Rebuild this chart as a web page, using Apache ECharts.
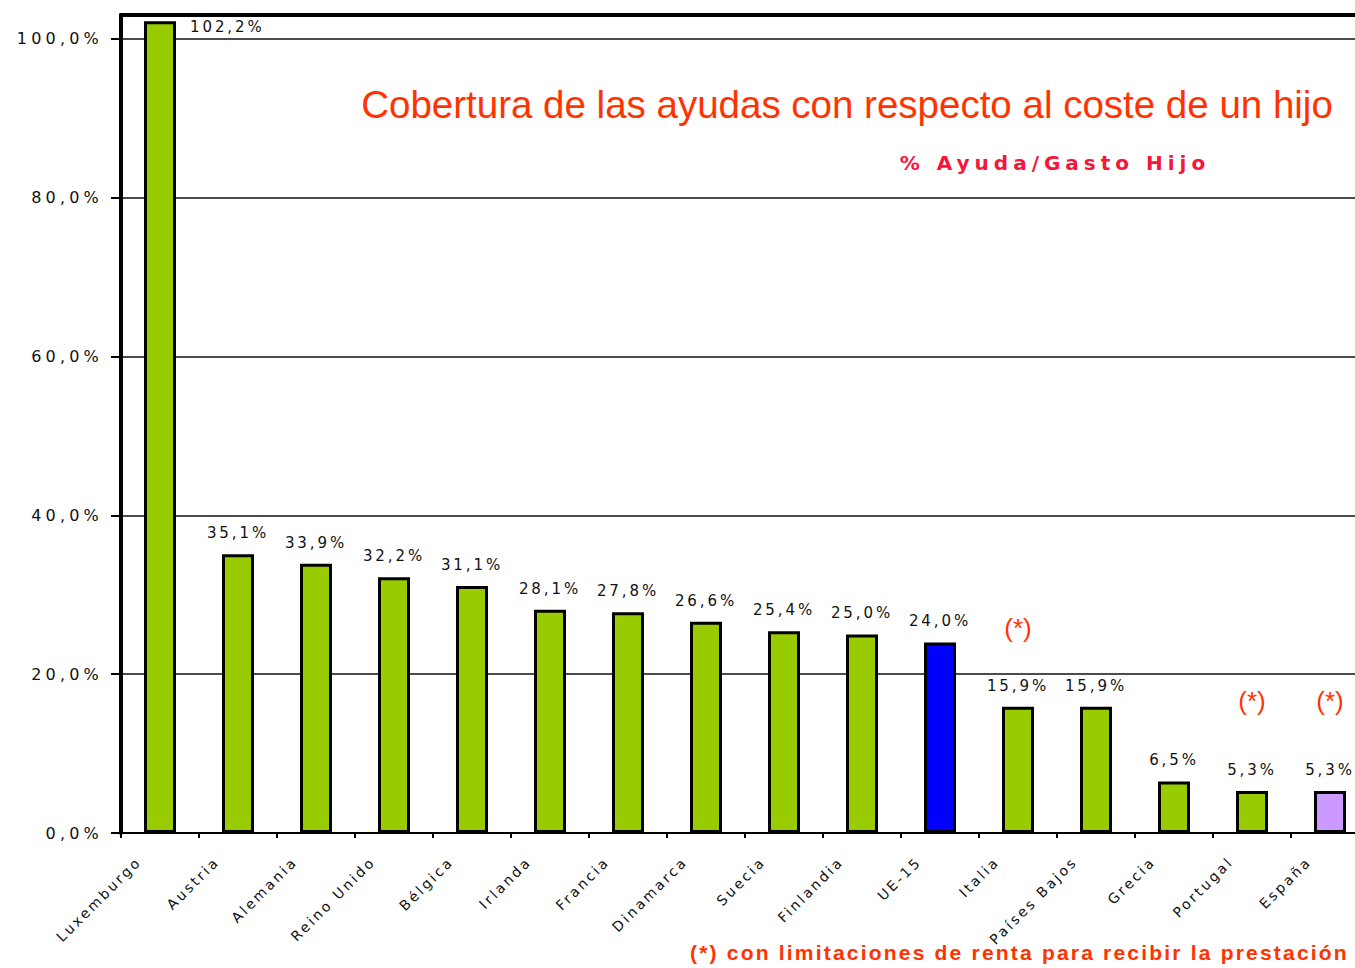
<!DOCTYPE html>
<html lang="es">
<head>
<meta charset="utf-8">
<title>Cobertura de las ayudas con respecto al coste de un hijo</title>
<script src="https://cdn.jsdelivr.net/npm/echarts@6/dist/echarts.min.js"></script>
<style>
  html, body { margin: 0; padding: 0; background: #ffffff; }
  #chart { width: 1355px; height: 968px; }
  /* wide, spaced lettering of the chart texts */
  #chart text[style*="Verdana"] { letter-spacing: 4.2px; }
  #chart text[style*="Tahoma"] { letter-spacing: 2.9px; }
  #chart text[style*="Geneva"] { letter-spacing: 2.6px; }
  #chart text[style*="Trebuchet"] { letter-spacing: 5px; }
  #chart text[style*="Helvetica"] { letter-spacing: 2.2px; }
</style>
</head>
<body>
<div id="chart"></div>
<script>
// Countries, ordered by coverage
const paises = [
  'Luxemburgo', 'Austria', 'Alemania', 'Reino Unido', 'Bélgica', 'Irlanda',
  'Francia', 'Dinamarca', 'Suecia', 'Finlandia', 'UE-15', 'Italia',
  'Países Bajos', 'Grecia', 'Portugal', 'España'
];
// % of the cost of a child covered by family allowances
const cobertura = [
  102.2, 35.1, 33.9, 32.2, 31.1, 28.1, 27.8, 26.6, 25.4, 25.0, 24.0, 15.9,
  15.9, 6.5, 5.3, 5.3
];
// Countries whose allowance depends on household income
const conLimiteRenta = ['Italia', 'Portugal', 'España'];
// Value-axis ticks
const ejeMin = 0;
const ejeMax = 103;
const ejeIntervalo = 20;

const titulo = 'Cobertura de las ayudas con respecto al coste de un hijo';
const subtitulo = '% Ayuda/Gasto Hijo';
const nota = '(*) con limitaciones de renta para recibir la prestación';

const VERDE = '#99CC00';
const AZUL = '#0000FF';
const LILA = '#CC99FF';
const ROJO = '#FF3300';

const fmt = v => v.toFixed(1).replace('.', ',') + '%';

// gap between the "(*)" mark and the value below it
const notaAltura = { 'Italia': 100, 'Portugal': 122, 'España': 122 };

const datos = cobertura.map((v, i) => {
  const pais = paises[i];
  let color = VERDE;
  if (pais === 'UE-15') color = AZUL;
  if (pais === 'España') color = LILA;
  const item = { value: v, itemStyle: { color: color } };
  if (i === 0) {
    // the tallest bar carries its value beside its top
    item.label = {
      position: ['100%', 0],
      align: 'left',
      verticalAlign: 'middle',
      offset: [14, 6]
    };
  }
  if (conLimiteRenta.includes(pais)) {
    item.label = {
      formatter: p => '{nota|(*)}\n{val|' + fmt(p.value) + '}',
      rich: {
        nota: {
          fontFamily: "'Liberation Sans', Arial",
          fontSize: 26,
          color: ROJO,
          lineHeight: notaAltura[pais]
        },
        val: {
          fontFamily: "'DejaVu Sans', Tahoma",
          fontSize: 15,
          color: '#111',
          lineHeight: 16
        }
      }
    };
  }
  return item;
});

const chart = echarts.init(document.getElementById('chart'), null, { renderer: 'svg' });

chart.setOption({
  backgroundColor: '#ffffff',
  animation: false,
  grid: {
    left: 121, top: 15, width: 1248, height: 818,
    outerBoundsMode: 'none', containLabel: false
  },
  xAxis: [
    {
      type: 'category',
      data: paises,
      position: 'bottom',
      boundaryGap: true,
      axisLine: { lineStyle: { color: '#000', width: 2 } },
      axisTick: { show: true, length: 5, interval: 0, lineStyle: { color: '#000', width: 2 } },
      axisLabel: {
        interval: 0,
        rotate: 45,
        margin: 5,
        padding: [0, 30, 0, 0],
        fontFamily: "'DejaVu Sans', Geneva",
        fontSize: 14,
        color: '#111'
      }
    },
    {
      // heavy frame line along the top of the plot
      type: 'category',
      data: paises,
      position: 'top',
      axisLine: { lineStyle: { color: '#000', width: 4 } },
      axisTick: { show: false },
      axisLabel: { show: false }
    }
  ],
  yAxis: {
    type: 'value',
    min: ejeMin,
    max: ejeMax,
    interval: ejeIntervalo,
    axisLine: { show: true, lineStyle: { color: '#000', width: 4 } },
    axisTick: { show: true, length: 10, lineStyle: { color: '#000', width: 2 } },
    splitLine: { show: true, lineStyle: { color: '#111', width: 1.6 } },
    axisLabel: {
      margin: 18,
      showMaxLabel: false,
      formatter: v => (v % ejeIntervalo === 0 ? fmt(v) : ''),
      fontFamily: "'DejaVu Sans', Verdana",
      fontSize: 16,
      color: '#111'
    }
  },
  series: [
    {
      type: 'bar',
      data: datos,
      barWidth: 32,
      itemStyle: { borderColor: '#000', borderWidth: 3 },
      label: {
        show: true,
        position: 'top',
        distance: 13,
        formatter: p => fmt(p.value),
        fontFamily: "'DejaVu Sans', Tahoma",
        fontSize: 15,
        lineHeight: 16,
        color: '#111'
      }
    }
  ],
  graphic: [
    {
      type: 'text',
      x: 847,
      y: 104,
      style: {
        text: titulo,
        font: "38.5px 'Liberation Sans', Arial, sans-serif",
        fill: ROJO,
        textAlign: 'center',
        textVerticalAlign: 'middle'
      }
    },
    {
      type: 'text',
      x: 1055,
      y: 163,
      style: {
        text: subtitulo,
        font: "bold 20px 'DejaVu Sans', 'Trebuchet MS', sans-serif",
        fill: '#F5163A',
        textAlign: 'center',
        textVerticalAlign: 'middle'
      }
    },
    {
      type: 'text',
      x: 690,
      y: 952,
      style: {
        text: nota,
        font: "bold 21px 'Liberation Sans', Helvetica, sans-serif",
        fill: ROJO,
        textAlign: 'left',
        textVerticalAlign: 'middle'
      }
    }
  ]
});
</script>
</body>
</html>
